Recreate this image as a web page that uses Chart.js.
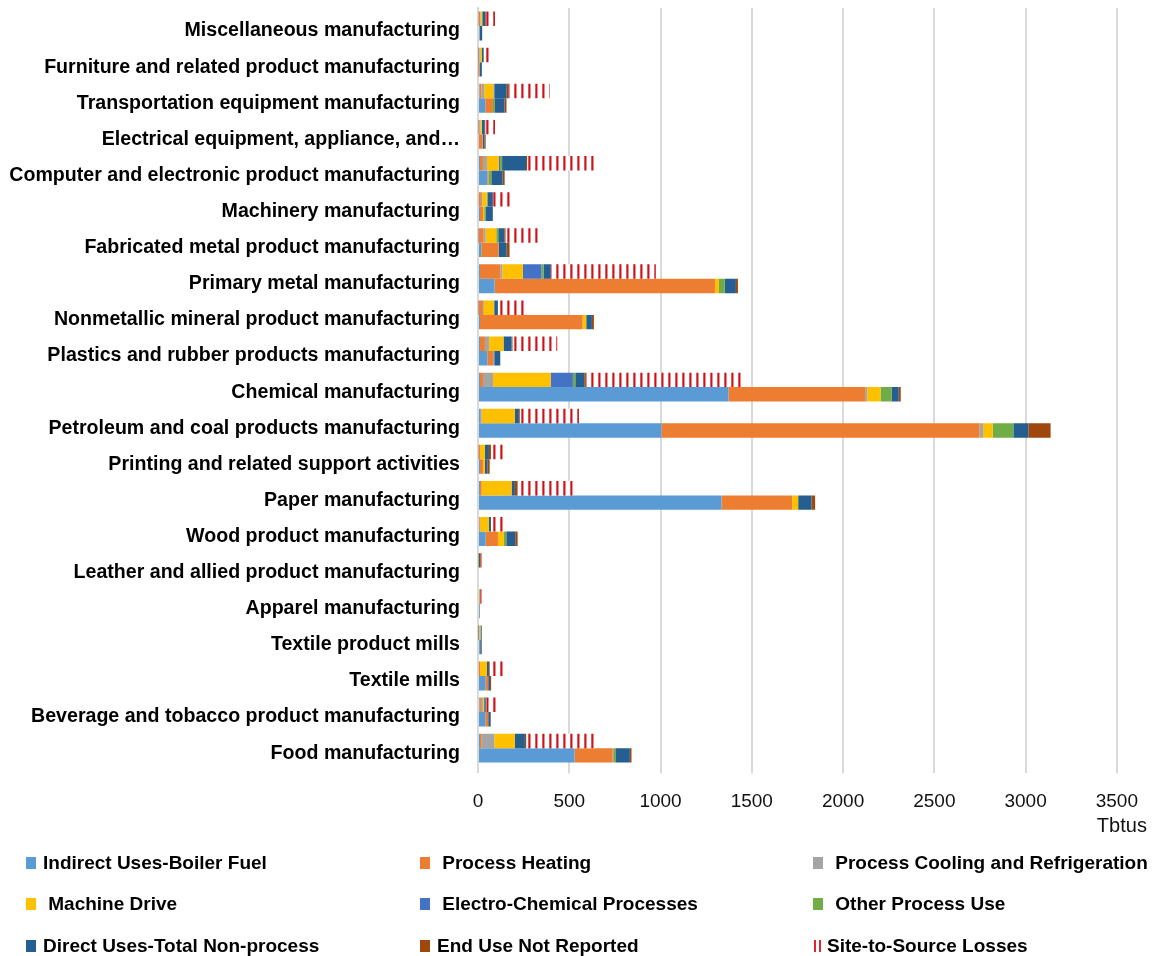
<!DOCTYPE html>
<html lang="en">
<head>
  <meta charset="UTF-8">
  <title>Manufacturing Energy Consumption by End Use</title>
  <script src="https://cdn.jsdelivr.net/npm/chart.js"></script>
  <style>
      body {
          margin: 0;
          background: #fff;
          font-family: "Liberation Sans", Arial, sans-serif;
      }

      #wrap {
          position: relative;
          width: 1155px;
          height: 956px;
      }

      /* legend: 3 columns x 3 rows under the chart */
      #legend {
          position: absolute;
          left: 26px;
          top: 842px;
          display: grid;
          grid-template-columns: 394px 393px 330px;
          grid-auto-rows: 41.5px;
      }

      .item {
          display: flex;
          align-items: center;
          font-size: 19px;
          font-weight: bold;
          color: #000;
          white-space: pre;
      }

      .swatch {
          width: 10px;
          height: 12px;
          margin-right: 7px;
          flex: none;
      }

      .losses {
          background: repeating-linear-gradient(90deg, #fff 0 1px, #e0262c 1px 3px, #fff 3px 5px);
      }
  </style>
</head>
<body>

<div id="wrap">
  <canvas id="chart" width="1155" height="845"></canvas>
  <div id="legend"></div>
</div>

<script>
// industries, top to bottom as drawn
const industries = [
  "Miscellaneous manufacturing",
  "Furniture and related product manufacturing",
  "Transportation equipment manufacturing",
  "Electrical equipment, appliance, and\u2026",
  "Computer and electronic product manufacturing",
  "Machinery manufacturing",
  "Fabricated metal product manufacturing",
  "Primary metal manufacturing",
  "Nonmetallic mineral product manufacturing",
  "Plastics and rubber products manufacturing",
  "Chemical manufacturing",
  "Petroleum and coal products manufacturing",
  "Printing and related support activities",
  "Paper manufacturing",
  "Wood product manufacturing",
  "Leather and allied product manufacturing",
  "Apparel manufacturing",
  "Textile product mills",
  "Textile mills",
  "Beverage and tobacco product manufacturing",
  "Food manufacturing"
];

// end uses (legend order)
const endUses = [
  "Indirect Uses-Boiler Fuel",
  " Process Heating",
  " Process Cooling and Refrigeration",
  " Machine Drive",
  " Electro-Chemical Processes",
  " Other Process Use",
  "Direct Uses-Total Non-process",
  "End Use Not Reported",
  "Site-to-Source Losses"
];

const colors = ["#5b9bd5", "#ed7d31", "#a5a5a5", "#ffc000", "#4472c4", "#70ad47", "#255e91", "#9e480e"];

// fuel consumption, Tbtu (lower bar of each pair)
const boilerFuel     = [9, 3, 40, 5, 51, 11, 18, 91, 11, 51, 1372, 1005, 11, 1334, 42, 0, 0, 10, 40, 40, 529];
const heatingFuel    = [2, 7, 42, 20, 7, 16, 95, 1207, 562, 31, 749, 1742, 16, 387, 67, 0, 0, 2, 16, 16, 209];
const coolingFuel    = [0, 0, 0, 0, 0, 0, 0, 0, 0, 7, 11, 20, 0, 0, 0, 0, 0, 0, 0, 0, 7];
const machineFuel    = [0, 1, 0, 1, 0, 7, 0, 22, 20, 0, 73, 53, 11, 33, 33, 0, 0, 0, 0, 0, 0];
const electroFuel    = [0, 0, 0, 0, 0, 0, 0, 0, 0, 0, 0, 0, 0, 0, 0, 0, 0, 0, 0, 0, 0];
const otherFuel      = [0, 0, 11, 0, 15, 7, 0, 31, 0, 0, 62, 113, 0, 0, 13, 0, 0, 0, 0, 0, 11];
const nonprocessFuel = [11, 10, 52, 10, 62, 40, 44, 62, 31, 33, 38, 82, 15, 73, 49, 0, 8, 8, 10, 12, 76];
const unreportedFuel = [1, 1, 11, 6, 11, 1, 16, 11, 11, 0, 11, 122, 11, 20, 13, 0, 1, 1, 6, 3, 9];

// electricity consumption, Tbtu (upper bar of each pair)
const boilerElec     = [4, 2, 8, 3, 11, 5, 3, 11, 3, 11, 11, 11, 4, 11, 7, 0, 0, 1, 5, 7, 11];
const heatingElec    = [8, 6, 11, 6, 16, 11, 28, 111, 24, 27, 16, 0, 7, 9, 4, 0, 0, 5, 6, 9, 9];
const coolingElec    = [2, 2, 15, 3, 22, 7, 11, 11, 5, 22, 55, 9, 0, 0, 0, 0, 0, 1, 0, 11, 69];
const machineElec    = [7, 9, 51, 8, 65, 25, 58, 113, 55, 80, 316, 182, 27, 164, 49, 2, 8, 6, 38, 5, 113];
const electroElec    = [0, 0, 7, 0, 7, 0, 0, 102, 0, 0, 122, 0, 0, 0, 0, 0, 0, 0, 0, 0, 0];
const otherElec      = [3, 2, 0, 2, 11, 4, 11, 11, 2, 0, 13, 0, 0, 0, 0, 0, 0, 1, 0, 2, 0];
const nonprocessElec = [15, 9, 65, 15, 131, 29, 33, 40, 20, 44, 49, 22, 22, 18, 11, 9, 2, 6, 11, 8, 55];
const unreportedElec = [4, 2, 9, 3, 6, 1, 7, 0, 0, 5, 9, 5, 11, 15, 0, 3, 3, 1, 4, 4, 7];
const lossesElec     = [50, 30, 227, 53, 380, 109, 200, 575, 160, 245, 860, 324, 76, 303, 76, 9, 9, 12, 83, 54, 376];

const xTicks = [0, 500, 1000, 1500, 2000, 2500, 3000, 3500];

const fuelSeries = [boilerFuel, heatingFuel, coolingFuel, machineFuel, electroFuel, otherFuel, nonprocessFuel, unreportedFuel];
const elecSeries = [boilerElec, heatingElec, coolingElec, machineElec, electroElec, otherElec, nonprocessElec, unreportedElec];

const canvas = document.getElementById("chart");
const ctx = canvas.getContext("2d");

// red vertical hatching for the losses segment
function stripePattern() {
  const c = document.createElement("canvas");
  c.width = 7;
  c.height = 4;
  const g = c.getContext("2d");
  g.fillStyle = "#fff";
  g.fillRect(0, 0, 7, 4);
  g.fillStyle = "#e2585c";
  g.fillRect(3, 0, 1, 4);
  g.fillStyle = "#c4161c";
  g.fillRect(4, 0, 1, 4);
  g.fillStyle = "#ec8a8d";
  g.fillRect(5, 0, 1, 4);
  return ctx.createPattern(c, "repeat");
}

const datasets = [];
// electricity stack first so it sits above the fuel bar
elecSeries.forEach((data, i) => {
  datasets.push({ label: endUses[i].trim(), data: data, backgroundColor: colors[i], stack: "elec" });
});
datasets.push({ label: endUses[8], data: lossesElec, backgroundColor: stripePattern(), stack: "elec" });
fuelSeries.forEach((data, i) => {
  datasets.push({ label: endUses[i].trim(), data: data, backgroundColor: colors[i], stack: "fuel" });
});

// "Tbtus" unit label under the last tick
const unitLabel = {
  id: "unitLabel",
  afterDraw(chart) {
    const x = chart.scales.x;
    const c = chart.ctx;
    c.save();
    c.font = "20px 'Liberation Sans', Arial, sans-serif";
    c.fillStyle = "#111";
    c.textAlign = "left";
    c.textBaseline = "middle";
    c.fillText("Tbtus", x.getPixelForValue(3500) - 20, chart.chartArea.bottom + 60);
    c.restore();
  }
};

Chart.defaults.font.family = "'Liberation Sans', Arial, sans-serif";

new Chart(ctx, {
  type: "bar",
  data: { labels: industries, datasets: datasets },
  plugins: [unitLabel],
  options: {
    indexAxis: "y",
    responsive: false,
    animation: false,
    layout: { padding: { top: 8, right: 30, bottom: 15, left: 0 } },
    datasets: {
      bar: { categoryPercentage: 0.8, barPercentage: 1.0, borderWidth: 0 }
    },
    plugins: {
      legend: { display: false },
      tooltip: { enabled: false }
    },
    scales: {
      x: {
        stacked: true,
        min: 0,
        max: 3500,
        afterBuildTicks: scale => { scale.ticks = xTicks.map(v => ({ value: v })); },
        grid: { color: "#d9d9d9", lineWidth: 2, tickLength: 7 },
        border: { display: false },
        ticks: { font: { size: 19 }, color: "#111", padding: 17, callback: v => String(v) }
      },
      y: {
        stacked: true,
        afterFit: scale => {
          // fixed label column, no extra half-label padding above/below
          scale.width = 478;
          scale.paddingTop = 0;
          scale.paddingBottom = 0;
        },
        grid: { display: false, drawTicks: false },
        border: { display: true, color: "#d9d9d9", width: 2 },
        ticks: { font: { size: 19.6, weight: "bold" }, color: "#000", padding: 18, labelOffset: 5, autoSkip: false }
      }
    }
  }
});

// html legend in three columns
const legend = document.getElementById("legend");
endUses.forEach((name, i) => {
  const item = document.createElement("div");
  item.className = "item";
  const sw = document.createElement("span");
  sw.className = "swatch";
  if (i < 8) {
    sw.style.background = colors[i];
  } else {
    sw.classList.add("losses");
    sw.style.marginRight = "4px";
  }
  const txt = document.createElement("span");
  txt.textContent = name;
  item.appendChild(sw);
  item.appendChild(txt);
  legend.appendChild(item);
});
</script>

</body>
</html>
